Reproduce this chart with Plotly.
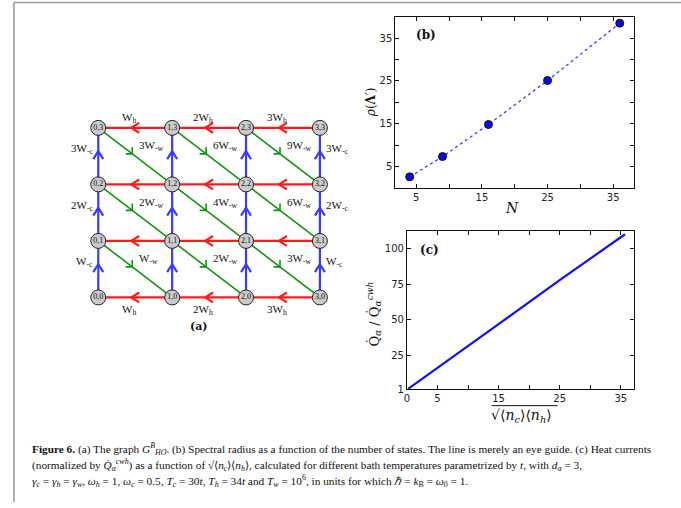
import plotly.graph_objects as go

W, H = 681, 508

# ---------------- data ----------------
grid_n = 4
red_weights = [1, 2, 3]          # W_h multiples along each row (left->right edge index)
blue_weights = [1, 2, 3]         # W_-c multiples going up
green_weights = [[1, 2, 3],      # coefficient (i+1)(j+1)
                 [2, 4, 6],
                 [3, 6, 9]]

N_states = [4, 9, 16, 25, 36]
rho = [2.55, 7.3, 14.8, 25.1, 38.5]

sqrt_n = [0.2, 5, 15, 25, 35.7]
Q_ratio = [1.3, 16.3, 47.0, 78.0, 110.4]

# ---------------- helpers (panel a geometry in pixels) ----------------
X0, DX = 95.7, 74.2     # px of column 0 and column spacing
Y0, DY = 301.0, 57.2    # px of row 0 and row spacing


def px2x(px):
    return (px - X0) / DX


def px2y(py):
    return (Y0 - py) / DY


def fx(v):
    return v / W


def fy(py):
    return 1 - py / H


fig = go.Figure()

RED = "#ff1a1a"
BLUE = "#3a3aff"
GREEN = "#129412"

rx, ry, bx, by, gx, gy = [], [], [], [], [], []
crx, cry, cbx, cby, cgx, cgy = [], [], [], [], [], []
for j in range(grid_n):
    for i in range(grid_n - 1):
        rx += [i, i + 1, None]
        ry += [j, j, None]
        mx = i + 0.5
        tip = mx - 4 / DX
        crx += [mx + 4 / DX, tip, mx + 4 / DX, None]
        cry += [j + 5 / DY, j, j - 5 / DY, None]
for i in range(grid_n):
    for j in range(grid_n - 1):
        bx += [i, i, None]
        by += [j, j + 1, None]
        my = j + 0.5
        tip = my + 5 / DY
        cbx += [i - 5 / DX, i, i + 5 / DX, None]
        cby += [my - 3 / DY, tip, my - 3 / DY, None]
for i in range(grid_n - 1):
    for j in range(grid_n - 1):
        gx += [i, i + 1, None]
        gy += [j + 1, j, None]
        tx = i + 0.46
        ty = j + 1 - 0.46
        cgx += [tx - 6.5 / DX, tx, tx, None]
        cgy += [ty, ty, ty + 7 / DY, None]

for xs, ys, c, w in [(gx, gy, GREEN, 1.6), (cgx, cgy, GREEN, 1.6),
                     (rx, ry, RED, 2.2), (crx, cry, RED, 2.2),
                     (bx, by, BLUE, 2.2), (cbx, cby, BLUE, 2.2)]:
    fig.add_trace(go.Scatter(x=xs, y=ys, mode="lines", line=dict(color=c, width=w),
                             xaxis="x3", yaxis="y3", hoverinfo="skip", showlegend=False))

nx, ny, nt = [], [], []
for i in range(grid_n):
    for j in range(grid_n):
        nx.append(i)
        ny.append(j)
        nt.append(f"{i},{j}")
fig.add_trace(go.Scatter(x=nx, y=ny, mode="markers+text", text=nt,
                         textfont=dict(family="Liberation Serif", size=8, color="#111"),
                         textposition="middle center",
                         marker=dict(size=15, color="#cbcbcb", line=dict(color="#222", width=1)),
                         xaxis="x3", yaxis="y3", hoverinfo="skip", showlegend=False))

ann = []
LF = dict(family="Liberation Serif", size=11, color="#111")


def wl(k, sub):
    pre = "" if k == 1 else str(k)
    return f"{pre}W<sub>{sub}</sub>"


for i in range(grid_n - 1):
    ann.append(dict(x=i + 0.5, y=grid_n - 1, xref="x3", yref="y3", text=wl(red_weights[i], "h"),
                    showarrow=False, font=LF, xshift=-6, yshift=10))
    ann.append(dict(x=i + 0.5, y=0, xref="x3", yref="y3", text=wl(red_weights[i], "h"),
                    showarrow=False, font=LF, xshift=-6, yshift=-13))
for j in range(grid_n - 1):
    ann.append(dict(x=0, y=j + 0.5, xref="x3", yref="y3", text=wl(blue_weights[j], "-c"),
                    showarrow=False, font=LF, xanchor="right", xshift=-3, yshift=7))
    ann.append(dict(x=grid_n - 1, y=j + 0.5, xref="x3", yref="y3", text=wl(blue_weights[j], "-c"),
                    showarrow=False, font=LF, xanchor="left", xshift=4, yshift=7))
for j in range(grid_n - 1):
    for i in range(grid_n - 1):
        ann.append(dict(x=i + 0.5, y=j + 0.5, xref="x3", yref="y3", text=wl(green_weights[j][i], "-w"),
                        showarrow=False, font=LF, xanchor="left", xshift=2, yshift=10))

# ---------------- panel (b) ----------------
fig.add_trace(go.Scatter(x=N_states, y=rho, mode="lines+markers",
                         line=dict(color="#3d3dff", width=1.3, dash="dot"),
                         marker=dict(size=8, color="#0a0ae6", line=dict(color="#111", width=1)),
                         xaxis="x", yaxis="y", showlegend=False))
# ---------------- panel (c) ----------------
fig.add_trace(go.Scatter(x=sqrt_n, y=Q_ratio, mode="lines",
                         line=dict(color="#1010ff", width=2.2),
                         xaxis="x2", yaxis="y2", showlegend=False))

TF = dict(family="DejaVu Sans", size=10, color="#222")
axbase = dict(showline=True, linecolor="#111", linewidth=1, mirror="ticks", ticks="inside",
              ticklen=4, tickwidth=1, tickcolor="#111", showgrid=False, zeroline=False,
              tickfont=TF, tickmode="array")

bx_t = [5, 10, 15, 20, 25, 30, 35]
by_t = [5, 10, 15, 20, 25, 30, 35]
cx_t = [0, 5, 10, 15, 20, 25, 30, 35]
cy_t = [1, 25, 50, 75, 100]


def lab(vals, show):
    return [str(v) if v in show else " " for v in vals]


def pa(px, py, text, size=12, family="DejaVu Serif", angle=0):
    return dict(x=fx(px), y=fy(py), xref="paper", yref="paper", text=text, showarrow=False,
                xanchor="center", yanchor="middle", textangle=angle,
                font=dict(family=family, size=size, color="#111"))


ann += [
    pa(197, 330, "<b>(a)</b>", 11),
    pa(425, 35, "<b>(b)</b>", 12),
    pa(428, 253, "<b>(c)</b>", 12),
    pa(511, 210, "<i>N</i>", 14),
    pa(369, 104, "<i>ρ</i>(<b>Λ</b>′)", 12, angle=-90),
    pa(373, 318, "Q̇<sub><i>α</i></sub> / Q̇<sub><i>α</i></sub><sup><i>cwh</i></sup>", 13, angle=-90),
    pa(521, 421, "√⟨<i>n<sub>c</sub></i>⟩⟨<i>n<sub>h</sub></i>⟩", 14),
]

CF = dict(family="Liberation Serif", size=11.3, color="#111")
cap = [
    "<b>Figure 6.</b> (a) The graph <i>G</i><sup><i>B</i></sup><sub><i>HO</i></sub>. (b) Spectral radius as a function of the number of states. The line is merely an eye guide. (c) Heat currents",
    "(normalized by <i>Q̇</i><sub><i>α</i></sub><sup><i>cwh</i></sup>) as a function of √⟨<i>n<sub>c</sub></i>⟩⟨<i>n<sub>h</sub></i>⟩, calculated for different bath temperatures parametrized by <i>t</i>, with <i>d<sub>α</sub></i> = 3,",
    "<i>γ<sub>c</sub></i> = <i>γ<sub>h</sub></i> = <i>γ<sub>w</sub></i>, <i>ω<sub>h</sub></i> = 1, <i>ω<sub>c</sub></i> = 0.5, <i>T<sub>c</sub></i> = 30<i>t</i>, <i>T<sub>h</sub></i> = 34<i>t</i> and <i>T<sub>w</sub></i> = 10<sup>6</sup>, in units for which <i>ℏ</i> = <i>k</i><sub>B</sub> = <i>ω</i><sub>0</sub> = 1.",
]
for k, (t, py) in enumerate(zip(cap, [454, 471, 487])):
    ann.append(dict(x=fx(27), y=fy(py), xref="paper", yref="paper", text=t, showarrow=False,
                    xanchor="left", yanchor="middle", align="left", font=CF))

shapes = [
    dict(type="line", xref="paper", yref="paper", x0=fx(11), x1=1, y0=fy(2.5), y1=fy(2.5),
         line=dict(color="#9c9c9c", width=1.6)),
    dict(type="line", xref="paper", yref="paper", x0=fx(11), x1=fx(11), y0=fy(2.5), y1=0,
         line=dict(color="#9c9c9c", width=1.6)),
    # overline of the square root in panel (c) x title
    dict(type="line", xref="paper", yref="paper", x0=fx(491), x1=fx(557), y0=fy(410.5), y1=fy(410.5),
         line=dict(color="#111", width=1)),
]

fig.update_layout(
    width=W, height=H, margin=dict(l=0, r=0, t=0, b=0),
    paper_bgcolor="white", plot_bgcolor="rgba(0,0,0,0)",
    xaxis=dict(axbase, domain=[fx(394), fx(634)], range=[1.8, 38.2], anchor="y",
               tickvals=bx_t, ticktext=lab(bx_t, [5, 15, 25, 35])),
    yaxis=dict(axbase, domain=[fy(190), fy(17)], range=[0, 40], anchor="x",
               tickvals=by_t, ticktext=lab(by_t, [5, 15, 25, 35])),
    xaxis2=dict(axbase, domain=[fx(405.7), fx(634)], range=[0, 37.2], anchor="y2",
                tickvals=cx_t, ticktext=lab(cx_t, [0, 5, 15, 25, 35])),
    yaxis2=dict(axbase, domain=[fy(394), fy(233.3)], range=[1, 113], anchor="x2",
                tickvals=cy_t, ticktext=[str(v) for v in cy_t]),
    xaxis3=dict(domain=[fx(60), fx(360)], range=[px2x(60), px2x(360)], visible=False, anchor="y3"),
    yaxis3=dict(domain=[fy(340), fy(100)], range=[px2y(340), px2y(100)], visible=False, anchor="x3"),
    annotations=ann, shapes=shapes,
)

fig.write_html("out.html")
